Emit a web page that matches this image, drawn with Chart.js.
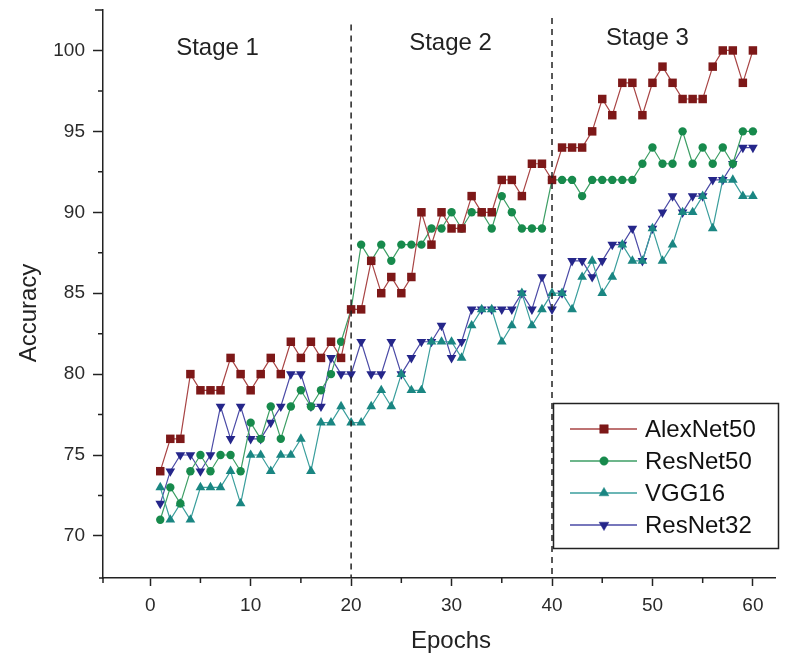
<!DOCTYPE html>
<html>
<head>
<meta charset="utf-8">
<script src="https://cdn.jsdelivr.net/npm/chart.js@4.4.1/dist/chart.umd.min.js"></script>
<style>
  body { margin: 0; background: #fff; }
  canvas { display: block; }
</style>
</head>
<body>
<canvas id="myChart" width="793" height="658"></canvas>
<script>
// epochs and accuracy per model
const epochs = [1,2,3,4,5,6,7,8,9,10,11,12,13,14,15,16,17,18,19,20,
  21,22,23,24,25,26,27,28,29,30,31,32,33,34,35,36,37,38,39,40,
  41,42,43,44,45,46,47,48,49,50,51,52,53,54,55,56,57,58,59,60];

const alexNet50 = [74,76,76,80,79,79,79,81,80,79, 80,81,80,82,81,82,81,82,81,84,
  84,87,85,86,85,86,90,88,90,89, 89,91,90,90,92,92,91,93,93,92,
  94,94,94,95,97,96,98,98,96,98, 99,98,97,97,97,99,100,100,98,100];

const resNet50 = [71,73,72,74,75,74,75,75,74,77, 76,78,76,78,79,78,79,80,82,84,
  88,87,88,87,88,88,88,89,89,90, 89,90,90,89,91,90,89,89,89,92,
  92,92,91,92,92,92,92,92,93,94, 93,93,95,93,94,93,94,93,95,95];

const vgg16 = [73,71,72,71,73,73,73,74,72,75, 75,74,75,75,76,74,77,77,78,77,
  77,78,79,78,80,79,79,82,82,82, 81,83,84,84,82,83,85,83,84,85,
  85,84,86,87,85,86,88,87,87,89, 87,88,90,90,91,89,92,92,91,91];

const resNet32 = [72,74,75,75,74,75,78,76,78,76, 76,77,78,80,80,78,78,81,80,80,
  82,80,80,82,80,81,82,82,83,81, 82,84,84,84,84,84,85,84,86,84,
  85,87,87,86,87,88,88,89,87,89, 90,91,90,91,91,92,92,93,94,94];

const seriesNames = ["AlexNet50", "ResNet50", "VGG16", "ResNet32"];
const stageLines = [20, 40];
const stageLabels = ["Stage 1", "Stage 2", "Stage 3"];

const FONT = '"Liberation Sans", Arial, sans-serif';

const toPoints = (vals) => vals.map((v, i) => ({ x: epochs[i], y: v }));

const makeSet = (label, vals, line, marker, style, rot, r) => ({
  label: label,
  data: toPoints(vals),
  borderColor: line,
  borderWidth: 1.2,
  backgroundColor: marker,
  pointBackgroundColor: marker,
  pointBorderColor: marker,
  pointBorderWidth: 0,
  pointStyle: style,
  pointRotation: rot,
  pointRadius: r,
  pointHoverRadius: r,
  tension: 0,
  fill: false,
});

const datasets = [
  makeSet(seriesNames[0], alexNet50, "#a84444", "#7d1818", "rect", 0, 6),
  makeSet(seriesNames[1], resNet50, "#3c9e64", "#178a4c", "circle", 0, 4.2),
  makeSet(seriesNames[2], vgg16, "#3a9e9c", "#1a8682", "triangle", 0, 5.6),
  makeSet(seriesNames[3], resNet32, "#4a4aa6", "#25268a", "triangle", 180, 5.6),
];

function drawMarker(ctx, ds, x, y) {
  ctx.save();
  ctx.fillStyle = ds.pointBackgroundColor;
  ctx.strokeStyle = ds.pointBackgroundColor;
  ctx.lineWidth = 0.5;
  Chart.helpers.drawPoint(ctx, {
    pointStyle: ds.pointStyle,
    rotation: ds.pointRotation,
    radius: ds.pointRadius,
    borderWidth: 0.5,
  }, x, y);
  ctx.restore();
}

const decorations = {
  id: "decorations",
  afterDraw(chart) {
    const ctx = chart.ctx;
    const xs = chart.scales.x;
    const ys = chart.scales.y;
    const area = chart.chartArea;
    ctx.save();
    ctx.strokeStyle = "#222";
    ctx.lineWidth = 1.5;

    // minor ticks
    ctx.beginPath();
    for (let v = 5; v < 62; v += 10) {
      const px = xs.getPixelForValue(v);
      ctx.moveTo(px, area.bottom);
      ctx.lineTo(px, area.bottom + 5);
    }
    for (let v = 72.5; v < 102; v += 5) {
      const py = ys.getPixelForValue(v);
      ctx.moveTo(area.left, py);
      ctx.lineTo(area.left - 5, py);
    }
    // small end ticks on axes
    ctx.moveTo(area.left, area.top);
    ctx.lineTo(area.left - 8, area.top);
    ctx.moveTo(area.left, area.bottom);
    ctx.lineTo(area.left, area.bottom + 5);
    ctx.moveTo(area.left, area.bottom);
    ctx.lineTo(area.left - 4, area.bottom);
    ctx.stroke();

    // stage dividers
    ctx.setLineDash([6, 5]);
    ctx.lineWidth = 1.5;
    const tops = [101.6, 102.0];
    stageLines.forEach((s, i) => {
      const px = xs.getPixelForValue(s);
      ctx.beginPath();
      ctx.moveTo(px, ys.getPixelForValue(tops[i]));
      ctx.lineTo(px, area.bottom);
      ctx.stroke();
    });
    ctx.setLineDash([]);

    // stage labels
    ctx.fillStyle = "#222";
    ctx.font = "24px " + FONT;
    ctx.textAlign = "center";
    ctx.textBaseline = "middle";
    const stagePos = [[6.7, 100.12], [29.9, 100.42], [49.5, 100.72]];
    stageLabels.forEach((t, i) => {
      ctx.fillText(t, xs.getPixelForValue(stagePos[i][0]), ys.getPixelForValue(stagePos[i][1]));
    });

    // axis titles
    ctx.fillStyle = "#222";
    ctx.font = "24px " + FONT;
    ctx.fillText("Epochs", 451, 641);
    ctx.save();
    ctx.translate(29, 313);
    ctx.rotate(-Math.PI / 2);
    ctx.fillText("Accuracy", 0, 0);
    ctx.restore();

    // legend box
    const bx = 553.5, by = 403.5, bw = 225, bh = 145;
    ctx.fillStyle = "#fff";
    ctx.fillRect(bx, by, bw, bh);
    ctx.strokeStyle = "#222";
    ctx.lineWidth = 1.5;
    ctx.strokeRect(bx, by, bw, bh);
    const rows = [429, 461, 493, 525];
    ctx.textAlign = "left";
    ctx.font = "24px " + FONT;
    chart.data.datasets.forEach((ds, i) => {
      const y = rows[i];
      ctx.strokeStyle = ds.borderColor;
      ctx.lineWidth = 1.5;
      ctx.beginPath();
      ctx.moveTo(570, y);
      ctx.lineTo(637, y);
      ctx.stroke();
      drawMarker(ctx, ds, 604, y);
      ctx.fillStyle = "#111";
      ctx.fillText(ds.label, 645, y + 1);
    });
    ctx.restore();
  },
};

const axisCommon = {
  type: "linear",
  grid: {
    drawOnChartArea: false,
    drawTicks: true,
    tickColor: "#222",
    tickWidth: 1.5,
  },
  border: { display: true, color: "#222", width: 1.5 },
};

const ctx = document.getElementById("myChart").getContext("2d");
const myChart = new Chart(ctx, {
  type: "line",
  data: { datasets: datasets },
  options: {
    responsive: false,
    animation: false,
    layout: { padding: { left: 0, top: 10, right: 18, bottom: 0 } },
    plugins: {
      legend: { display: false },
      tooltip: { enabled: false },
    },
    scales: {
      x: {
        ...axisCommon,
        min: -4.7,
        max: 62.2,
        grid: { ...axisCommon.grid, tickLength: 8 },
        ticks: {
          stepSize: 10,
          includeBounds: false,
          color: "#2a2a2a",
          padding: 8,
          maxRotation: 0,
          font: { family: FONT, size: 19 },
        },
        afterFit: (scale) => {
          scale.height = 80;
          scale.paddingLeft = 0;
          scale.paddingRight = 0;
        },
      },
      y: {
        ...axisCommon,
        min: 67.4,
        max: 102.5,
        grid: { ...axisCommon.grid, tickLength: 10 },
        ticks: {
          stepSize: 5,
          includeBounds: false,
          color: "#2a2a2a",
          padding: 8,
          font: { family: FONT, size: 19 },
        },
        afterFit: (scale) => {
          scale.width = 103;
          scale.paddingTop = 0;
          scale.paddingBottom = 0;
        },
      },
    },
  },
  plugins: [decorations],
});
</script>
</body>
</html>
